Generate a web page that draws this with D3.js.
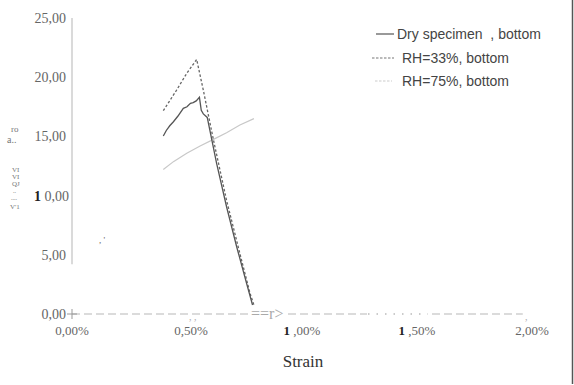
<!DOCTYPE html>
<html>
<head>
<meta charset="utf-8">
<script src="https://cdn.jsdelivr.net/npm/d3@7"></script>
<style>
  body { margin: 0; background: #fff; }
  svg { display: block; }
</style>
</head>
<body>
<svg id="chart" width="574" height="385"></svg>
<script>
// values (strain in %, stress in MPa)
var dryStrain = [0.397, 0.41, 0.425, 0.441, 0.46, 0.484, 0.5, 0.515, 0.527, 0.54, 0.554, 0.562, 0.571, 0.588, 0.629, 0.672, 0.716, 0.759, 0.785];
var dryStress = [15.03, 15.5, 15.9, 16.24, 16.7, 17.37, 17.5, 17.8, 17.85, 18.0, 18.3, 17.2, 16.9, 16.6, 12.7, 9.06, 5.68, 2.6, 0.76];
var rh33Strain = [0.397, 0.455, 0.499, 0.542, 0.571, 0.615, 0.672, 0.73, 0.774, 0.791];
var rh33Stress = [17.17, 18.92, 20.33, 21.5, 18.9, 14.7, 9.6, 5.1, 1.75, 0.76];
var rh75Strain = [0.397, 0.441, 0.499, 0.557, 0.615, 0.672, 0.73, 0.791];
var rh75Stress = [12.2, 12.87, 13.57, 14.19, 14.75, 15.31, 15.96, 16.5];

var yTicks = [0, 5, 10, 15, 20, 25];
var yTickLabels = ["0,00", "5,00", "1 0,00", "15,00", "20,00", "25,00"];
var xTicks = [0, 0.5, 1, 1.5, 2];
var xTickLabels = ["0,00%", "0,50%", "1 ,00%", "1 ,50%", "2,00%"];
var legendLabels = ["Dry specimen \u00a0, bottom", "RH=33%, bottom", "RH=75%, bottom"];

var svg = d3.select("#chart");

var x = d3.scaleLinear().domain([0, 2]).range([72, 532]);
var y = d3.scaleLinear().domain([0, 25]).range([314, 18]);

var serif = "'Liberation Serif', 'DejaVu Serif', serif";
var sans = "'Liberation Sans', Arial, sans-serif";

// right frame line
svg.append("line")
    .attr("x1", 572.5).attr("x2", 572.5)
    .attr("y1", 0).attr("y2", 384)
    .style("stroke", "#555").style("stroke-width", 1.5);

// y axis line (fades out above zero in the scan)
svg.append("line")
    .attr("x1", x(0)).attr("x2", x(0))
    .attr("y1", y(25)).attr("y2", y(4.2))
    .style("stroke", "#b5b5b5").style("stroke-width", 1);

// y tick labels
yTicks.forEach(function(t, i) {
    var lab = yTickLabels[i];
    var txt = svg.append("text")
        .attr("x", lab.indexOf("1 ") === 0 ? 69 : 66).attr("y", y(t) + 5)
        .attr("text-anchor", "end")
        .style("font-family", serif).style("font-size", "14px")
        .style("fill", "#666");
    if (lab.indexOf("1 ") === 0) {
        txt.append("tspan").style("font-weight", "bold").style("fill", "#222").text("1");
        txt.append("tspan").text(lab.slice(1));
    } else {
        txt.text(lab);
    }
});

// x tick labels
xTicks.forEach(function(t, i) {
    var lab = xTickLabels[i];
    var txt = svg.append("text")
        .attr("x", x(t) + (t === 0.5 ? 4 : 0)).attr("y", 335)
        .attr("text-anchor", "middle")
        .style("font-family", serif).style("font-size", "13px")
        .style("fill", "#666");
    if (lab.indexOf("1 ") === 0) {
        txt.append("tspan").style("font-weight", "bold").style("fill", "#222").text("1");
        txt.append("tspan").text(lab.slice(1));
    } else {
        txt.text(lab);
    }
});

// zero baseline, dashed
svg.append("line")
    .attr("x1", x(0)).attr("x2", x(1.96))
    .attr("y1", y(0)).attr("y2", y(0))
    .style("stroke", "#b8b8b8").style("stroke-width", 1.2)
    .style("stroke-dasharray", "8,4");
svg.append("rect").attr("x", 367).attr("y", y(0) - 3).attr("width", 62).attr("height", 6).style("fill", "#fff");
svg.append("line")
    .attr("x1", 368).attr("x2", 428)
    .attr("y1", y(0)).attr("y2", y(0))
    .style("stroke", "#bbb").style("stroke-width", 1.5)
    .style("stroke-dasharray", "1.5,7");
svg.append("line")
    .attr("x1", x(0) - 5).attr("x2", x(0) + 5)
    .attr("y1", y(0)).attr("y2", y(0))
    .style("stroke", "#999");
svg.append("line")
    .attr("x1", x(0)).attr("x2", x(0))
    .attr("y1", y(0) - 5).attr("y2", y(0) + 5)
    .style("stroke", "#999");
// scan artifacts on the baseline
svg.append("rect").attr("x", 252).attr("y", y(0) - 7).attr("width", 34).attr("height", 14).style("fill", "#fff");
svg.append("text").attr("x", 251).attr("y", y(0) + 5)
    .style("font-family", serif).style("font-size", "16px").style("fill", "#aaa")
    .text("==r>");
svg.append("text").attr("x", x(0.5) + 2).attr("y", y(0) + 6)
    .style("font-family", serif).style("font-size", "10px").style("fill", "#aaa")
    .text(", ,");
svg.append("text").attr("x", 525).attr("y", y(0) + 6)
    .style("font-family", serif).style("font-size", "10px").style("fill", "#aaa")
    .text(",");

// y axis title, garbled in the scan
var yt = svg.append("g").style("font-family", serif).style("fill", "#777");
[["ro", 11, 132, 9], ["a..", 7, 143, 10], ["VI", 12, 172, 7], ["VI", 12, 179, 7], ["QJ", 12, 186, 7], ["..", 13, 193, 6], ["....", 11, 200, 6], ["V'1", 10, 209, 7]].forEach(function(d) {
    yt.append("text").attr("x", d[1]).attr("y", d[2]).style("font-size", d[3] + "px").text(d[0]);
});
svg.append("text").attr("x", 99).attr("y", 243)
    .style("font-family", serif).style("font-size", "9px").style("fill", "#666").text(", '");

// x axis title
svg.append("text")
    .attr("x", 303).attr("y", 367)
    .attr("text-anchor", "middle")
    .style("font-family", serif).style("font-size", "17px")
    .style("fill", "#333")
    .text("Strain");

// series
var line = d3.line()
    .x(function(d) { return x(d[0]); })
    .y(function(d) { return y(d[1]); });

var series = [
    { xs: rh75Strain, ys: rh75Stress, color: "#c8c8c8", width: 1.2, dash: null },
    { xs: rh33Strain, ys: rh33Stress, color: "#666", width: 1.3, dash: "2.5,2" },
    { xs: dryStrain, ys: dryStress, color: "#555", width: 1.3, dash: null }
];
series.forEach(function(s) {
    svg.append("path")
        .datum(d3.zip(s.xs, s.ys))
        .attr("d", line)
        .style("fill", "none")
        .style("stroke", s.color)
        .style("stroke-width", s.width)
        .style("stroke-dasharray", s.dash);
});

// legend
var legend = [
    { label: legendLabels[0], color: "#555", dash: null, x1: 376, x2: 394, tx: 397, ty: 39 },
    { label: legendLabels[1], color: "#777", dash: "2.5,1.5", x1: 372, x2: 394, tx: 402, ty: 63 },
    { label: legendLabels[2], color: "#ccc", dash: "2.5,1.5", x1: 375, x2: 392, tx: 402, ty: 86 }
];
legend.forEach(function(l) {
    svg.append("line")
        .attr("x1", l.x1).attr("x2", l.x2)
        .attr("y1", l.ty - 5).attr("y2", l.ty - 5)
        .style("stroke", l.color).style("stroke-width", 1.2)
        .style("stroke-dasharray", l.dash);
    svg.append("text")
        .attr("x", l.tx).attr("y", l.ty)
        .style("font-family", sans).style("font-size", "14px")
        .style("fill", "#444")
        .text(l.label);
});
</script>
</body>
</html>
